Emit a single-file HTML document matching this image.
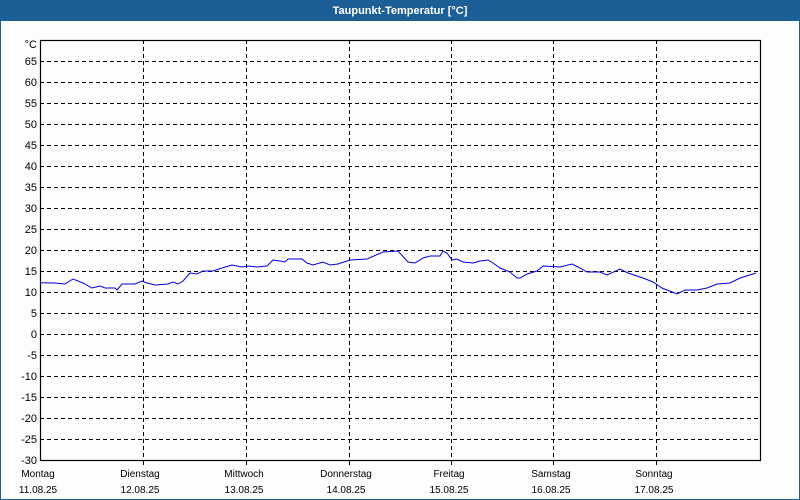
<!DOCTYPE html>
<html><head><meta charset="utf-8"><style>
html,body{margin:0;padding:0;width:800px;height:500px;overflow:hidden;background:#fff}
</style></head><body>
<svg width="800" height="500" xmlns="http://www.w3.org/2000/svg" font-family="Liberation Sans, sans-serif" font-size="11">
<rect x="0" y="0" width="800" height="500" fill="#fdfdfd"/>
<rect x="0.5" y="0.5" width="799" height="499" fill="none" stroke="#1c5f96" stroke-width="1"/>
<rect x="0" y="0" width="800" height="21" fill="#1c5f96"/>
<text x="400" y="14" text-anchor="middle" fill="#fff" font-weight="bold" font-size="11">Taupunkt-Temperatur [°C]</text>
<g stroke="#000" stroke-dasharray="4,3" stroke-width="1">
<line x1="40" y1="61.5" x2="760" y2="61.5"/><line x1="40" y1="82.5" x2="760" y2="82.5"/><line x1="40" y1="103.5" x2="760" y2="103.5"/><line x1="40" y1="124.5" x2="760" y2="124.5"/><line x1="40" y1="145.5" x2="760" y2="145.5"/><line x1="40" y1="166.5" x2="760" y2="166.5"/><line x1="40" y1="187.5" x2="760" y2="187.5"/><line x1="40" y1="208.5" x2="760" y2="208.5"/><line x1="40" y1="229.5" x2="760" y2="229.5"/><line x1="40" y1="250.5" x2="760" y2="250.5"/><line x1="40" y1="271.5" x2="760" y2="271.5"/><line x1="40" y1="292.5" x2="760" y2="292.5"/><line x1="40" y1="313.5" x2="760" y2="313.5"/><line x1="40" y1="334.5" x2="760" y2="334.5"/><line x1="40" y1="355.5" x2="760" y2="355.5"/><line x1="40" y1="376.5" x2="760" y2="376.5"/><line x1="40" y1="397.5" x2="760" y2="397.5"/><line x1="40" y1="418.5" x2="760" y2="418.5"/><line x1="40" y1="439.5" x2="760" y2="439.5"/>
<line x1="143.5" y1="40" x2="143.5" y2="460"/><line x1="246.5" y1="40" x2="246.5" y2="460"/><line x1="349.5" y1="40" x2="349.5" y2="460"/><line x1="451.5" y1="40" x2="451.5" y2="460"/><line x1="553.5" y1="40" x2="553.5" y2="460"/><line x1="656.5" y1="40" x2="656.5" y2="460"/>
</g>
<g stroke="#000" stroke-width="1">
<line x1="143.5" y1="460" x2="143.5" y2="465"/><line x1="246.5" y1="460" x2="246.5" y2="465"/><line x1="349.5" y1="460" x2="349.5" y2="465"/><line x1="451.5" y1="460" x2="451.5" y2="465"/><line x1="553.5" y1="460" x2="553.5" y2="465"/><line x1="656.5" y1="460" x2="656.5" y2="465"/>
</g>
<rect x="40.5" y="40.5" width="720" height="420" fill="none" stroke="#000" stroke-width="1.2"/>
<polyline fill="none" stroke="#0000e0" stroke-width="1" points="40,282.7 55,283 65,284 73,279 83,283 92,288 100,286 105,288 115,288 117,290 122,284 135,284 142,281 147,283 155,285 168,284 173,282 178,284 183,281 190,273 197,274 203,271 213,271 222,268 232,265 242,267 248,266 257,267 267,266 273,260 280,261 285,262 288,259 302,259 307,263 313,265 323,262 330,265 338,264 350,260 367,259 383,252 398,251 408,262 415,263 423,258 430,256 440,256 443,251 447,253 452,260 457,259 463,262 473,263 480,261 488,260 493,263 500,268 510,272 517,278 520,278 527,274 537,271 543,266 560,267 572,264 578,267 587,272 600,272 607,275 620,269 628,273 643,278 653,282 662,288 677,294 685,290 697,290 707,288 717,284 730,283 740,278 753,274 756,273"/>
<g text-anchor="end" fill="#000">
<text x="37" y="48">°C</text>
<text x="37" y="65">65</text><text x="37" y="86">60</text><text x="37" y="107">55</text><text x="37" y="128">50</text><text x="37" y="149">45</text><text x="37" y="170">40</text><text x="37" y="191">35</text><text x="37" y="212">30</text><text x="37" y="233">25</text><text x="37" y="254">20</text><text x="37" y="275">15</text><text x="37" y="296">10</text><text x="37" y="317">5</text><text x="37" y="338">0</text><text x="37" y="359">-5</text><text x="37" y="380">-10</text><text x="37" y="401">-15</text><text x="37" y="422">-20</text><text x="37" y="443">-25</text><text x="37" y="464">-30</text>
</g>
<g text-anchor="middle" fill="#000" font-size="10">
<text x="38" y="477">Montag</text><text x="38" y="493">11.08.25</text>
<text x="140" y="477">Dienstag</text><text x="140" y="493">12.08.25</text>
<text x="244" y="477">Mittwoch</text><text x="244" y="493">13.08.25</text>
<text x="346" y="477">Donnerstag</text><text x="346" y="493">14.08.25</text>
<text x="449" y="477">Freitag</text><text x="449" y="493">15.08.25</text>
<text x="551" y="477">Samstag</text><text x="551" y="493">16.08.25</text>
<text x="654" y="477">Sonntag</text><text x="654" y="493">17.08.25</text>
</g>
</svg>
</body></html>
